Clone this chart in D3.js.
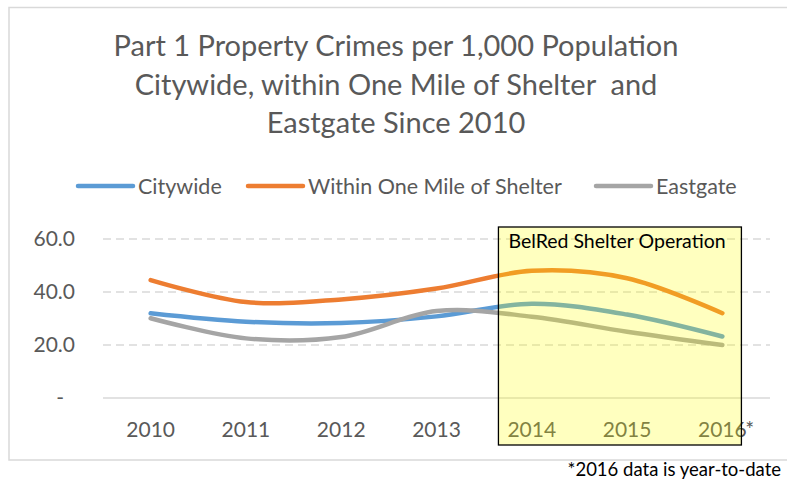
<!DOCTYPE html>
<html>
<head>
<meta charset="utf-8">
<script src="https://cdn.jsdelivr.net/npm/d3@7"></script>
<style>
  body { margin: 0; background: #fff; overflow: hidden; }
  svg { display: block; font-family: Lato, "Open Sans", sans-serif; }
</style>
</head>
<body>
<svg id="chart" width="787" height="483"></svg>
<script>
// data
var years = ["2010", "2011", "2012", "2013", "2014", "2015", "2016"];
var citywide = [32.0, 28.8, 28.3, 30.8, 35.6, 31.5, 23.2];
var withinMile = [44.5, 36.2, 37.2, 41.3, 48.0, 45.2, 32.0];
var eastgate = [30.1, 22.5, 23.0, 32.8, 30.7, 25.0, 20.0];
var yTicks = [0, 20, 40, 60];
var titleLines = ["Part 1 Property Crimes per 1,000 Population",
                  "Citywide, within One Mile of Shelter  and",
                  "Eastgate Since 2010"];

var seriesNames = ["Citywide", "Within One Mile of Shelter", "Eastgate"];
var colors = ["#5B9BD5", "#ED7D31", "#A5A5A5"];

var series = [citywide, withinMile, eastgate].map(function(vals, i) {
    return {
        id: seriesNames[i],
        color: colors[i],
        values: vals.map(function(v, j) { return {year: years[j], value: v}; })
    };
});

var svg = d3.select("#chart"),
    margin = {top: 239, right: 17, bottom: 85, left: 103},
    width = +svg.attr("width"),
    height = +svg.attr("height");

// chart frame
svg.append("rect")
    .attr("x", 9)
    .attr("y", 7.5)
    .attr("width", 800)
    .attr("height", 452.5)
    .attr("fill", "#fff")
    .attr("stroke", "#d9d9d9")
    .attr("stroke-width", 1.5);

// title
svg.append("g").selectAll("text")
    .data(titleLines)
    .enter().append("text")
    .attr("x", 396)
    .attr("y", (d, i) => 56 + i * 38.5)
    .attr("text-anchor", "middle")
    .attr("xml:space", "preserve")
    .style("white-space", "pre")
    .style("font-size", "29px")
    .style("fill", "#595959")
    .text(d => d);

var x = d3.scaleBand()
    .domain(years)
    .range([margin.left, width - margin.right]);

var y = d3.scaleLinear()
    .domain([0, 60])
    .range([height - margin.bottom, margin.top]);

// gridlines
svg.append("g").selectAll("line")
    .data(yTicks.filter(d => d > 0))
    .enter().append("line")
    .attr("x1", margin.left)
    .attr("x2", width - margin.right)
    .attr("y1", d => y(d))
    .attr("y2", d => y(d))
    .attr("stroke", "#d9d9d9")
    .attr("stroke-width", 1.3)
    .attr("stroke-dasharray", "8,5");

svg.append("line")
    .attr("x1", margin.left)
    .attr("x2", width - margin.right)
    .attr("y1", y(0))
    .attr("y2", y(0))
    .attr("stroke", "#d9d9d9")
    .attr("stroke-width", 1.3);

// y labels
svg.append("g").selectAll("text")
    .data(yTicks)
    .enter().append("text")
    .attr("x", d => d === 0 ? 64 : 75)
    .attr("y", d => y(d))
    .attr("dy", "0.35em")
    .attr("text-anchor", "end")
    .style("font-size", "21px")
    .style("fill", "#595959")
    .text(d => d === 0 ? "-" : d3.format(".1f")(d));

// x labels
svg.append("g").selectAll("text")
    .data(years)
    .enter().append("text")
    .attr("x", d => x(d) + x.bandwidth() / 2)
    .attr("y", 437)
    .attr("text-anchor", "middle")
    .style("font-size", "21px")
    .style("fill", "#595959")
    .text(d => d);

svg.append("text")
    .attr("x", x("2016") + x.bandwidth() / 2 + 23)
    .attr("y", 437)
    .style("font-size", "21px")
    .style("fill", "#595959")
    .text("*");

var line = d3.line()
    .curve(d3.curveCatmullRom.alpha(0.5))
    .x(d => x(d.year) + x.bandwidth() / 2)
    .y(d => y(d.value));

svg.append("g").selectAll("path")
    .data(series)
    .enter().append("path")
    .attr("d", d => line(d.values))
    .attr("fill", "none")
    .attr("stroke", d => d.color)
    .attr("stroke-width", 4.5)
    .attr("stroke-linecap", "round");

// legend
var legendX = [78, 248, 596];
var legend = svg.append("g").selectAll("g")
    .data(series)
    .enter().append("g")
    .attr("transform", (d, i) => "translate(" + legendX[i] + ",186)");

legend.append("line")
    .attr("x1", 0)
    .attr("x2", 55)
    .attr("stroke", d => d.color)
    .attr("stroke-width", 4.5)
    .attr("stroke-linecap", "round");

legend.append("text")
    .attr("x", 60)
    .attr("dy", "0.35em")
    .style("font-size", "21.5px")
    .style("fill", "#595959")
    .text(d => d.id);

// shelter operation box, drawn over the lines
var step = x.step();
var boxLeft = x("2014") + x.bandwidth() / 2 - 0.35 * step;
var boxRight = x("2016") + x.bandwidth() / 2 + 0.2 * step;
svg.append("rect")
    .attr("x", boxLeft)
    .attr("y", y(60) - 12)
    .attr("width", boxRight - boxLeft)
    .attr("height", 445 - (y(60) - 12))
    .attr("fill", "rgba(255,255,0,0.25)")
    .attr("stroke", "#000")
    .attr("stroke-width", 1.3);

svg.append("text")
    .attr("x", boxLeft + 10)
    .attr("y", 248)
    .style("font-size", "19.5px")
    .style("fill", "#000")
    .text("BelRed Shelter Operation");

// footnote
svg.append("text")
    .attr("x", 781)
    .attr("y", 476)
    .attr("text-anchor", "end")
    .style("font-size", "18.5px")
    .style("fill", "#000")
    .text("*2016 data is year-to-date");
</script>
</body>
</html>
